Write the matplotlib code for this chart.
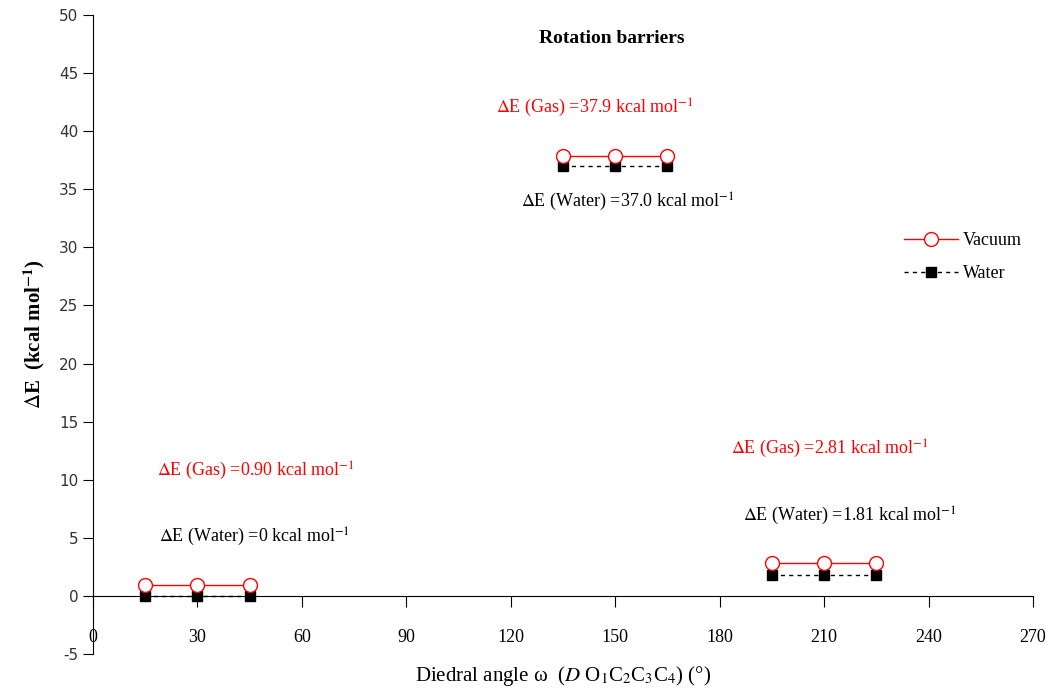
import numpy as np
import matplotlib.pyplot as plt

plt.rcParams['font.family'] = 'Liberation Serif'
plt.rcParams['mathtext.fontset'] = 'stix'
plt.rcParams['axes.unicode_minus'] = False

# dihedral angle groups (deg) and barrier energies (kcal/mol)
angles = [[15, 30, 45], [135, 150, 165], [195, 210, 225]]
vacuum = [0.90, 37.9, 2.81]
water = [0.0, 37.0, 1.81]
x_ticks = [0, 30, 60, 90, 120, 150, 180, 210, 240, 270]
y_ticks = [-5, 0, 5, 10, 15, 20, 25, 30, 35, 40, 45, 50]

fig = plt.figure(figsize=(10.53, 6.92), dpi=100)
ax = fig.add_axes([0.0883, 0.0549, 0.8927, 0.9234])

for i, xs in enumerate(angles):
    ax.plot(xs, [water[i]] * len(xs), '--', color='black', lw=1,
            marker='s', ms=7, mfc='black', mec='black', clip_on=False,
            label='Water' if i == 0 else None, zorder=4, dashes=(3, 3))
    ax.plot(xs, [vacuum[i]] * len(xs), '-', color='red', lw=1,
            marker='o', ms=10, mfc='white', mec='red', clip_on=False,
            label='Vacuum' if i == 0 else None, zorder=5)

ax.set_xlim(0, 270)
ax.set_ylim(-5, 50)
ax.set_xticks(x_ticks)
ax.set_yticks(y_ticks)
for s in ['top', 'right']:
    ax.spines[s].set_visible(False)
ax.spines['bottom'].set_position(('data', 0))
ax.tick_params(axis='x', direction='out', length=8, pad=16, labelsize=13)
ax.tick_params(axis='y', direction='out', length=7, labelsize=11)
for lab in ax.get_yticklabels():
    lab.set_family('DejaVu Sans')
    lab.set_color('#333333')

ax.set_ylabel(r'$\Delta$E  (kcal mol$^{\mathbf{-1}}$)', fontsize=15, fontweight='bold')
ax.yaxis.set_label_coords(-0.049, 0.5)
ax.set_xlabel(r'Diedral angle ω  ($\it{D}$ O$_1$C$_2$C$_3$C$_4$) (°)', fontsize=15)
ax.xaxis.set_label_coords(0.5, -0.016)

ax.text(149, 48.0, 'Rotation barriers', fontsize=14, fontweight='bold', ha='center', va='center')

ax.text(144.2, 42.0, r'$\Delta$E (Gas) =37.9 kcal mol$^{-1}$', color='red', fontsize=13, ha='center', va='center')
ax.text(153.7, 33.9, r'$\Delta$E (Water) =37.0 kcal mol$^{-1}$', color='black', fontsize=13, ha='center', va='center')
ax.text(46.8, 10.8, r'$\Delta$E (Gas) =0.90 kcal mol$^{-1}$', color='red', fontsize=13, ha='center', va='center')
ax.text(46.5, 5.1, r'$\Delta$E (Water) =0 kcal mol$^{-1}$', color='black', fontsize=13, ha='center', va='center')
ax.text(211.7, 12.7, r'$\Delta$E (Gas) =2.81 kcal mol$^{-1}$', color='red', fontsize=13, ha='center', va='center')
ax.text(217.5, 6.9, r'$\Delta$E (Water) =1.81 kcal mol$^{-1}$', color='black', fontsize=13, ha='center', va='center')

handles, labels = ax.get_legend_handles_labels()
order = [labels.index('Vacuum'), labels.index('Water')]
ax.legend([handles[k] for k in order], [labels[k] for k in order],
          loc='center left', bbox_to_anchor=(0.845, 0.621), frameon=False,
          fontsize=13, handlelength=3, handletextpad=0.3, labelspacing=0.9)

fig.savefig('out.png', dpi=100)
